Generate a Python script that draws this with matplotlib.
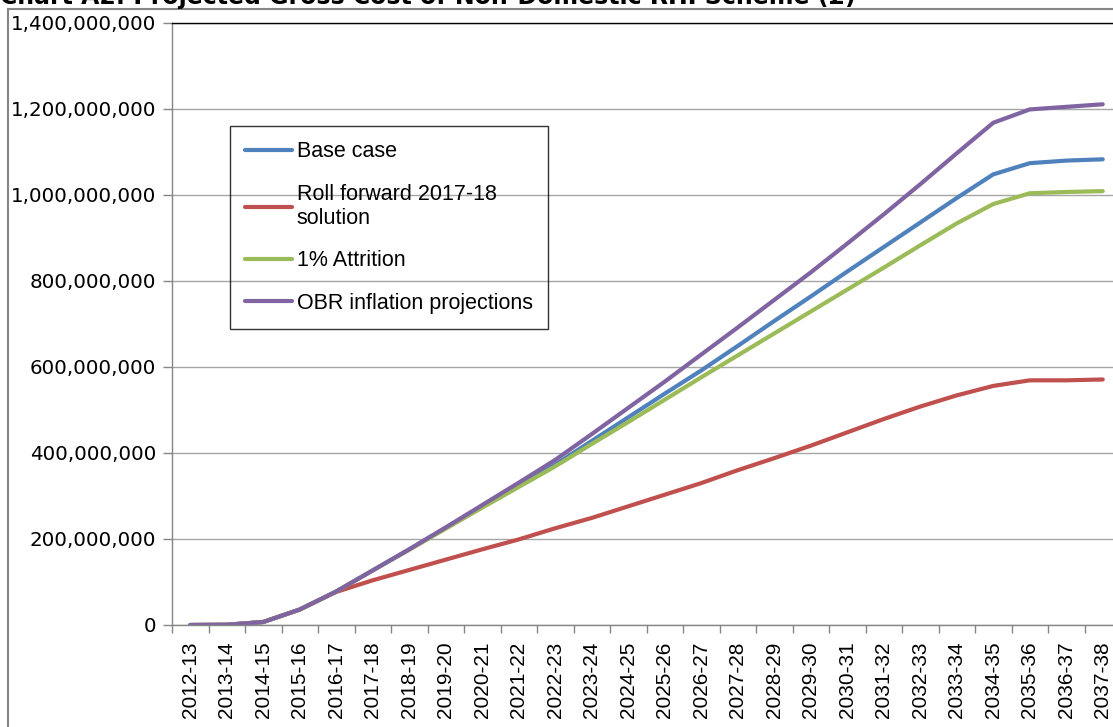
import matplotlib
matplotlib.use("Agg")
import matplotlib.pyplot as plt
from matplotlib.lines import Line2D
from matplotlib.ticker import FuncFormatter, FixedLocator

years = ['2012-13', '2013-14', '2014-15', '2015-16', '2016-17', '2017-18',
         '2018-19', '2019-20', '2020-21', '2021-22', '2022-23', '2023-24',
         '2024-25', '2025-26', '2026-27', '2027-28', '2028-29', '2029-30',
         '2030-31', '2031-32', '2032-33', '2033-34', '2034-35', '2035-36',
         '2036-37', '2037-38']

# values in millions of pounds
base_case = [0, 0.5, 7, 36, 78, 127, 176, 226, 276, 324, 373, 428, 483, 538,
             592, 649, 707, 764, 822, 879, 936, 993, 1048, 1074, 1080, 1083]
roll_forward = [0, 0.5, 7, 36, 77, 104, 128, 152, 176, 199, 225, 249, 276, 303,
                330, 360, 388, 417, 448, 479, 508, 534, 556, 569, 569, 571]
attrition = [0, 0.5, 7, 36, 78, 127, 175, 224, 273, 321, 369, 421, 472, 524,
             576, 627, 678, 729, 780, 831, 883, 934, 979, 1004, 1007, 1009]
obr = [0, 0.5, 7, 36, 78, 127, 176, 227, 279, 331, 384, 444, 505, 566,
       629, 692, 756, 820, 887, 955, 1025, 1097, 1168, 1199, 1205, 1211]

series = [
    ('Base case', base_case, '#4F81BD'),
    ('Roll forward 2017-18\nsolution', roll_forward, '#C0504D'),
    ('1% Attrition', attrition, '#9BBB59'),
    ('OBR inflation projections', obr, '#8064A2'),
]

W, H = 1113, 727
fig = plt.figure(figsize=(W / 100, H / 100), dpi=100)
ax = fig.add_axes([172 / W, (H - 625) / H, 949 / W, 602 / H])

x = list(range(len(years)))
for label, vals, col in series:
    ax.plot(x, [v * 1e6 for v in vals], color=col, lw=3, label=label,
            solid_capstyle='round', solid_joinstyle='round')

ax.set_xlim(-0.5, len(years) - 0.5)
ax.set_ylim(0, 1.4e9)
ax.set_yticks([i * 2e8 for i in range(8)])
ax.yaxis.set_major_formatter(FuncFormatter(lambda v, p: f'{v:,.0f}'))
ax.grid(axis='y', color='#A6A6A6', lw=1)
ax.set_axisbelow(True)

ax.set_xticks(x)
ax.set_xticklabels(years, rotation=90, fontsize=15, family='Liberation Sans')
ax.xaxis.set_minor_locator(FixedLocator([i - 0.5 for i in range(len(years) + 1)]))
ax.tick_params(axis='x', which='major', length=0, pad=12)
ax.tick_params(axis='x', which='minor', length=6, color='#868686', width=1)
ax.tick_params(axis='y', length=6.5, color='#868686', width=1, pad=5,
               labelsize=14.3)

ax.spines['top'].set_color('black')
ax.spines['left'].set_color('#868686')
ax.spines['bottom'].set_color('#868686')
for s in ax.spines.values():
    s.set_linewidth(1)

leg = ax.legend(loc='upper left', bbox_to_anchor=((230 - 172) / 949, (625 - 126) / 602),
                frameon=True, fancybox=False, edgecolor='black', facecolor='none',
                prop={'family': 'Liberation Sans', 'size': 15.5},
                handlelength=2.2, handletextpad=0.2, labelspacing=1.0,
                borderpad=0.7, borderaxespad=0)
leg.get_frame().set_linewidth(1)

# outer chart border, partly cut off in the original
fig.add_artist(Line2D([8 / W, 1], [1 - 9 / H, 1 - 9 / H], color='#868686', lw=1.5))
fig.add_artist(Line2D([8 / W, 8 / W], [0, 1 - 9 / H], color='#868686', lw=1.5))

fig.text(0 / W, 1 - 4 / H, 'Chart A2: Projected Gross Cost of Non-Domestic RHI Scheme (£)',
         fontsize=17, fontweight='bold', ha='left', va='baseline')

fig.savefig('out.png', dpi=100)
